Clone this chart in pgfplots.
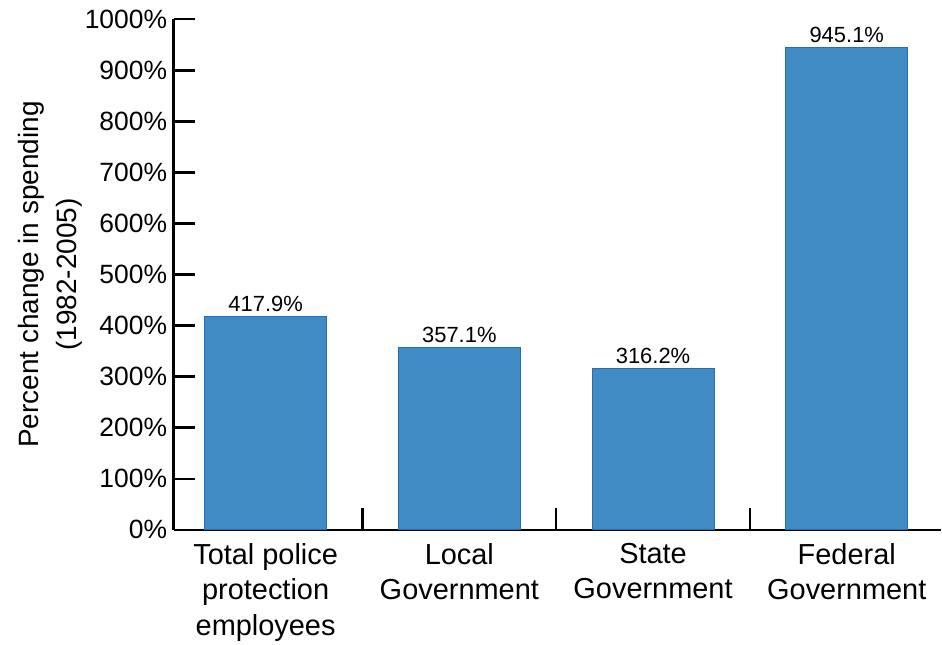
\documentclass[border=0pt]{standalone}
\usepackage{pgfplots}
\pgfplotsset{compat=1.18}
\usepackage{fontspec}
\setmainfont{Liberation Sans}
\definecolor{barblue}{RGB}{64,139,196}
\definecolor{baredge}{RGB}{32,112,180}
\begin{document}
\begin{tikzpicture}
\begin{axis}[
  scale only axis,
  width=769pt, height=512pt,
  xmin=-0.475, xmax=3.485,
  ymin=0, ymax=1000,
  axis lines=left,
  axis line style={line width=2.6pt, -},
  ybar, bar width=0.63,
  xtick={0,1,2,3},
  xticklabels={{Total police\\protection\\employees},{Local\\Government},{State\\Government},{Federal\\Government}},
  xticklabel style={align=center, font=\fontsize{29}{35.5}\selectfont, yshift=-10pt},
  major x tick style={draw=none},
  minor xtick={0.5,1.5,2.5},
  minor tick length=22pt,
  minor x tick style={line width=2.6pt, black},
  ytick={0,100,...,1000},
  yticklabel={\pgfmathprintnumber{\tick}\%},
  yticklabel style={font=\fontsize{26.5}{28}\selectfont, xshift=-3pt},
  major tick length=21pt,
  y tick style={line width=2.6pt, black},
  tick align=inside,
  xtick align=inside,
  /pgf/number format/assume math mode=true,
  /pgf/number format/1000 sep={},
  title={\rule{0pt}{13pt}},
  title style={at={(0.5,1)}, anchor=south, inner sep=0pt, yshift=0pt},
  ylabel={\rule{0pt}{35pt}Percent change in spending\\(1982-2005)},
  ylabel style={align=center, font=\fontsize{28}{38}\selectfont, yshift=-4pt},
  nodes near coords={\pgfmathprintnumber[fixed,precision=1,fixed zerofill]{\pgfplotspointmeta}\%},
  nodes near coords style={font=\fontsize{22}{24}\selectfont, yshift=1pt},
  clip=false,
]
\addplot[fill=barblue, draw=baredge, line width=1pt] coordinates {(0,417.9) (1,357.1) (2,316.2) (3,945.1)};
\end{axis}
\end{tikzpicture}
\end{document}
